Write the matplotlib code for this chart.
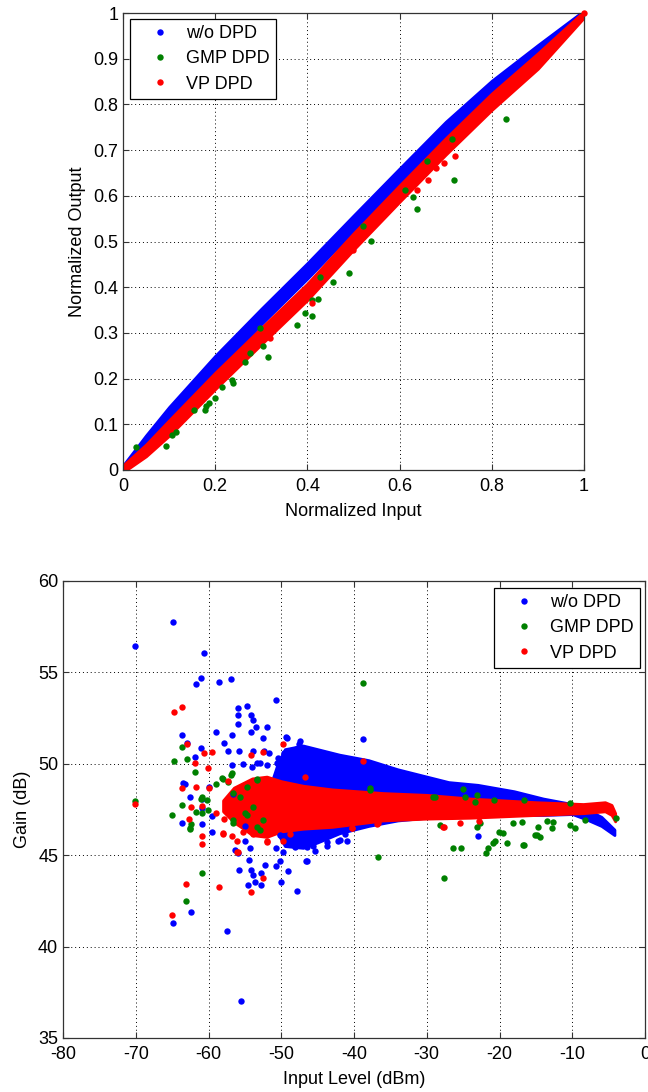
import matplotlib
matplotlib.use("Agg")
import matplotlib.pyplot as plt

plt.rcParams['font.family'] = ['Liberation Sans', 'DejaVu Sans']
plt.rcParams['font.size'] = 13
plt.rcParams['axes.unicode_minus'] = False

BLUE = (0, 0, 1)
GREEN = (0, 0.5, 0)
RED = (1, 0, 0)
series_labels = ["w/o DPD", "GMP DPD", "VP DPD"]

# ---- AM/AM (top) ----
am_blue_x = [0.0, 0.05, 0.1, 0.2, 0.3, 0.4, 0.5, 0.6, 0.7, 0.8, 0.9, 0.99]
am_blue_lo = [0.0, 0.048, 0.106, 0.216, 0.319, 0.419, 0.523, 0.626, 0.728, 0.821, 0.898, 0.982]
am_blue_hi = [0.01, 0.076, 0.138, 0.25, 0.353, 0.453, 0.557, 0.66, 0.762, 0.852, 0.93, 0.998]

am_red_x = [0.0, 0.05, 0.1, 0.2, 0.3, 0.4, 0.5, 0.6, 0.7, 0.8, 0.9, 1.0]
am_red_lo = [-0.005, 0.03, 0.075, 0.177, 0.275, 0.372, 0.482, 0.587, 0.69, 0.788, 0.878, 0.99]
am_red_hi = [0.01, 0.056, 0.109, 0.213, 0.311, 0.408, 0.518, 0.623, 0.726, 0.824, 0.912, 1.004]

am_green_pts = [(0.028, 0.050), (0.093, 0.052), (0.106, 0.077), (0.116, 0.084), (0.153, 0.131),
                (0.178, 0.131), (0.181, 0.139), (0.187, 0.146), (0.2, 0.157), (0.214, 0.182),
                (0.236, 0.197), (0.239, 0.19), (0.265, 0.237), (0.275, 0.256), (0.304, 0.271),
                (0.315, 0.248), (0.297, 0.311), (0.377, 0.317), (0.395, 0.343), (0.409, 0.337),
                (0.409, 0.372), (0.424, 0.374), (0.455, 0.412), (0.491, 0.432), (0.427, 0.423),
                (0.537, 0.501), (0.52, 0.534), (0.638, 0.571), (0.63, 0.598), (0.719, 0.635),
                (0.66, 0.676), (0.713, 0.724), (0.831, 0.769), (0.612, 0.613)]
am_red_pts = [(0.72, 0.687), (0.696, 0.672), (0.662, 0.635), (0.637, 0.613), (0.679, 0.661),
              (0.319, 0.289), (0.409, 0.365), (0.499, 0.481), (1.0, 1.0)]

# ---- gain vs input level (bottom) ----
g_blue_x = [-51.5, -50.5, -49.5, -47, -45, -42, -38, -34, -30, -27, -23, -18, -14, -10, -8, -6, -4.2]
g_blue_hi = [48.8, 50.0, 50.8, 51.0, 50.8, 50.5, 50.2, 49.7, 49.3, 49.0, 48.85, 48.5, 48.1, 47.8, 47.5, 47.1, 46.4]
g_blue_lo = [47.6, 46.2, 45.5, 45.4, 45.7, 46.2, 46.6, 46.9, 47.05, 47.1, 47.2, 47.2, 47.2, 47.25, 46.95, 46.6, 46.1]

g_red_x = [-58.0, -56.5, -55, -54, -52, -50, -47, -43, -36, -30, -24, -15, -8.5, -5.5, -4.6, -4.1]
g_red_hi = [48.0, 48.7, 49.0, 49.2, 49.3, 49.05, 48.8, 48.6, 48.4, 48.3, 48.1, 47.9, 47.8, 47.9, 47.75, 47.3]
g_red_lo = [47.4, 46.8, 46.4, 46.1, 46.0, 46.3, 46.45, 46.55, 46.9, 47.0, 47.05, 47.2, 47.3, 47.4, 47.2, 46.85]

g_green_x = [-56.5, -54, -52, -50, -47, -43, -36, -30, -24, -15, -8.5, -5.5]
g_green_hi = [48.6, 49.1, 49.2, 48.95, 48.7, 48.5, 48.3, 48.2, 48.0, 47.8, 47.7, 47.8]
g_green_lo = [46.9, 46.2, 46.1, 46.4, 46.55, 46.65, 47.0, 47.1, 47.15, 47.3, 47.4, 47.5]

g_blue_pts = [(-64.92, 57.76), (-70.06, 56.44), (-60.62, 56.08), (-60.99, 54.71), (-61.72, 54.35),
              (-58.6, 54.5), (-56.95, 54.64), (-50.72, 53.47), (-55.99, 53.04), (-54.75, 53.18),
              (-55.99, 52.67), (-54.2, 52.67), (-53.84, 52.38), (-55.99, 52.16), (-53.47, 52.01),
              (-52.0, 52.01), (-54.2, 51.72), (-58.97, 51.72), (-56.77, 51.58), (-52.55, 51.43),
              (-57.91, 51.14), (-57.32, 50.72), (-55.85, 50.72), (-53.84, 50.72), (-52.37, 50.72),
              (-49.25, 51.43), (-47.42, 51.25), (-63.68, 51.58), (-62.99, 51.16), (-60.99, 50.85),
              (-61.86, 50.35), (-56.77, 49.92), (-55.3, 49.99), (-53.29, 50.06), (-52.0, 49.92),
              (-50.54, 50.06), (-49.62, 50.57), (-47.97, 50.79), (-47.6, 51.08), (-63.19, 48.88),
              (-59.89, 48.75), (-62.54, 48.16), (-38.72, 51.36), (-49.35, 51.45), (-51.64, 50.57),
              (-50.4, 50.3), (-52.92, 50.02), (-54.07, 49.8), (-63.46, 48.97), (-60.94, 48.06),
              (-60.94, 47.6), (-59.56, 47.14), (-56.68, 48.33), (-54.98, 46.6), (-54.3, 45.4),
              (-55.9, 45.14), (-50.72, 45.4), (-50.17, 46.12), (-46.5, 44.7), (-45.36, 45.25),
              (-43.76, 45.52), (-41.0, 45.8), (-64.92, 41.29), (-62.41, 41.87), (-57.51, 40.84),
              (-55.49, 37.0), (-47.79, 43.05), (-63.68, 46.77), (-60.94, 46.73), (-59.52, 46.27),
              (-56.4, 45.31), (-54.94, 45.76), (-54.39, 44.76), (-55.85, 44.21), (-54.2, 44.18),
              (-53.84, 43.94), (-52.74, 44.03), (-52.74, 43.36), (-54.61, 43.38), (-53.61, 43.54),
              (-52.19, 44.45), (-50.72, 44.4), (-50.17, 44.69), (-50.08, 43.52), (-49.07, 44.12),
              (-49.8, 45.2), (-48.11, 45.43), (-46.6, 44.7), (-46.42, 45.43), (-45.59, 45.49),
              (-43.76, 45.7), (-42.16, 45.79), (-41.19, 46.15), (-22.91, 46.05), (-41.92, 45.83)]

g_green_pts = [(-38.72, 54.41), (-63.68, 50.94), (-64.78, 50.14), (-62.99, 50.28), (-61.86, 49.56),
               (-58.0, 49.19), (-56.95, 49.41), (-58.97, 48.88), (-60.94, 48.2), (-53.38, 49.19),
               (-70.06, 47.98), (-64.97, 47.22), (-63.68, 47.73), (-62.45, 46.71), (-62.54, 46.42),
               (-61.72, 47.37), (-60.99, 48.09), (-60.25, 48.02), (-60.03, 47.48), (-60.94, 44.0),
               (-63.13, 42.49), (-60.94, 47.3), (-56.59, 48.39), (-54.75, 48.75), (-54.98, 47.3),
               (-56.59, 46.93), (-52.92, 46.39), (-62.54, 46.5), (-58.19, 49.21), (-57.27, 49.02),
               (-56.81, 49.48), (-55.67, 48.2), (-53.84, 47.66), (-53.38, 49.12), (-52.46, 46.93),
               (-56.59, 46.75), (-54.75, 47.21), (-53.38, 46.57), (-37.8, 48.56), (-36.7, 44.88),
               (-27.59, 43.73), (-26.35, 45.41), (-25.34, 45.41), (-21.86, 45.1), (-21.54, 45.37),
               (-20.94, 45.68), (-20.62, 45.79), (-19.02, 45.68), (-16.73, 45.56), (-19.47, 46.19),
               (-20.02, 46.28), (-28.18, 46.65), (-23.13, 46.56), (-22.68, 46.74), (-18.19, 46.78),
               (-16.95, 46.83), (-14.66, 46.52), (-14.43, 45.98), (-14.89, 46.1), (-12.6, 46.83),
               (-10.31, 46.65), (-9.62, 46.47), (-16.63, 45.56), (-15.12, 46.1), (-12.83, 46.47),
               (-13.52, 46.88), (-8.25, 46.9), (-24.96, 48.6), (-23.13, 48.29), (-29.1, 48.2),
               (-20.8, 48.02), (-16.67, 48.02), (-10.31, 47.87), (-4.0, 47.05), (-37.8, 48.66),
               (-28.87, 48.2), (-24.74, 48.2), (-23.37, 47.93)]

g_red_pts = [(-64.78, 52.83), (-63.68, 53.12), (-62.99, 51.09), (-59.47, 50.65), (-60.62, 50.57),
             (-61.86, 50.06), (-60.03, 49.77), (-63.68, 48.67), (-61.72, 48.75), (-59.89, 48.67),
             (-54.2, 50.46), (-52.55, 50.65), (-49.8, 51.09), (-46.74, 49.26), (-57.27, 49.08),
             (-38.72, 50.13), (-70.06, 47.8), (-62.45, 47.62), (-62.63, 46.98), (-60.94, 47.7),
             (-60.94, 46.06), (-60.94, 45.64), (-58.97, 47.3), (-57.83, 46.98), (-58.05, 46.22),
             (-56.81, 46.06), (-55.99, 45.2), (-56.04, 45.79), (-55.22, 46.25), (-53.84, 46.15),
             (-52.0, 45.7), (-52.55, 43.78), (-54.2, 42.96), (-58.51, 43.27), (-63.13, 43.4),
             (-64.97, 41.74), (-57.96, 46.15), (-56.04, 45.15), (-52.0, 45.8), (-49.7, 45.8),
             (-48.8, 46.15), (-36.9, 46.7), (-40.3, 46.47), (-27.63, 46.56), (-25.43, 46.78),
             (-40.34, 46.47), (-36.66, 46.74), (-27.72, 46.56), (-22.82, 46.85)]


def style_axes(ax):
    ax.grid(True, color='black', linestyle=(0, (1, 3)), linewidth=0.7)
    ax.set_axisbelow(True)
    ax.tick_params(direction='in', top=True, right=True, length=4.5, width=0.8,
                   color='#333333', labelsize=13)
    ax.tick_params(axis='x', pad=5.5)
    for s in ax.spines.values():
        s.set_linewidth(0.9)
        s.set_color('#333333')


def draw_series(ax, band, pts, color, label, clip=True):
    x, lo, hi = band
    if x:
        ax.fill_between(x, lo, hi, color=color, linewidth=2.0, zorder=2)
    xs = [p[0] for p in pts]
    ys = [p[1] for p in pts]
    line, = ax.plot(xs, ys, linestyle='none', marker='o', ms=4.6, mew=0,
                    color=color, label=label, zorder=3, clip_on=clip)
    return line


def add_legend(fig, ax, handles, loc, anchor):
    leg = ax.legend(handles, series_labels, loc=loc, bbox_to_anchor=anchor,
                    bbox_transform=fig.transFigure, frameon=True, fancybox=False,
                    edgecolor='black', framealpha=1, borderaxespad=0,
                    handlelength=2.6, handletextpad=0.15, labelspacing=0.45,
                    borderpad=0.35, numpoints=1, fontsize=13)
    leg.get_frame().set_linewidth(0.9)
    leg.set_zorder(10)


W, H = 648, 1092
fig = plt.figure(figsize=(W / 100, H / 100), dpi=100)

# top axes
ax1 = fig.add_axes([123 / W, 1 - 470 / H, 461 / W, 457 / H])
h1 = draw_series(ax1, (am_blue_x, am_blue_lo, am_blue_hi), [], BLUE, series_labels[0])
h2 = draw_series(ax1, ([], [], []), am_green_pts, GREEN, series_labels[1])
h3 = draw_series(ax1, (am_red_x, am_red_lo, am_red_hi), am_red_pts, RED, series_labels[2], clip=False)
ax1.set_xlim(0, 1)
ax1.set_ylim(0, 1)
ax1.set_xticks([0, 0.2, 0.4, 0.6, 0.8, 1])
ax1.set_xticklabels(['0', '0.2', '0.4', '0.6', '0.8', '1'])
ax1.set_yticks([0, 0.1, 0.2, 0.3, 0.4, 0.5, 0.6, 0.7, 0.8, 0.9, 1])
ax1.set_yticklabels(['0', '0.1', '0.2', '0.3', '0.4', '0.5', '0.6', '0.7', '0.8', '0.9', '1'])
ax1.set_xlabel('Normalized Input', labelpad=6)
ax1.set_ylabel('Normalized Output', labelpad=5)
style_axes(ax1)
add_legend(fig, ax1, [h1, h2, h3], 'upper left', (130 / W, 1 - 19 / H))

# bottom axes
ax2 = fig.add_axes([63 / W, 1 - 1038 / H, 582 / W, 457 / H])
b1 = draw_series(ax2, (g_blue_x, g_blue_lo, g_blue_hi), g_blue_pts, BLUE, series_labels[0])
b2 = draw_series(ax2, (g_green_x, g_green_lo, g_green_hi), g_green_pts, GREEN, series_labels[1])
b3 = draw_series(ax2, (g_red_x, g_red_lo, g_red_hi), g_red_pts, RED, series_labels[2])
ax2.set_xlim(-80, 0)
ax2.set_ylim(35, 60)
ax2.set_xticks(range(-80, 1, 10))
ax2.set_yticks(range(35, 61, 5))
ax2.set_xlabel('Input Level (dBm)', labelpad=6)
ax2.set_ylabel('Gain (dB)', labelpad=5)
style_axes(ax2)
add_legend(fig, ax2, [b1, b2, b3], 'upper right', (640 / W, 1 - 588 / H))

fig.savefig('out.png', dpi=100)
